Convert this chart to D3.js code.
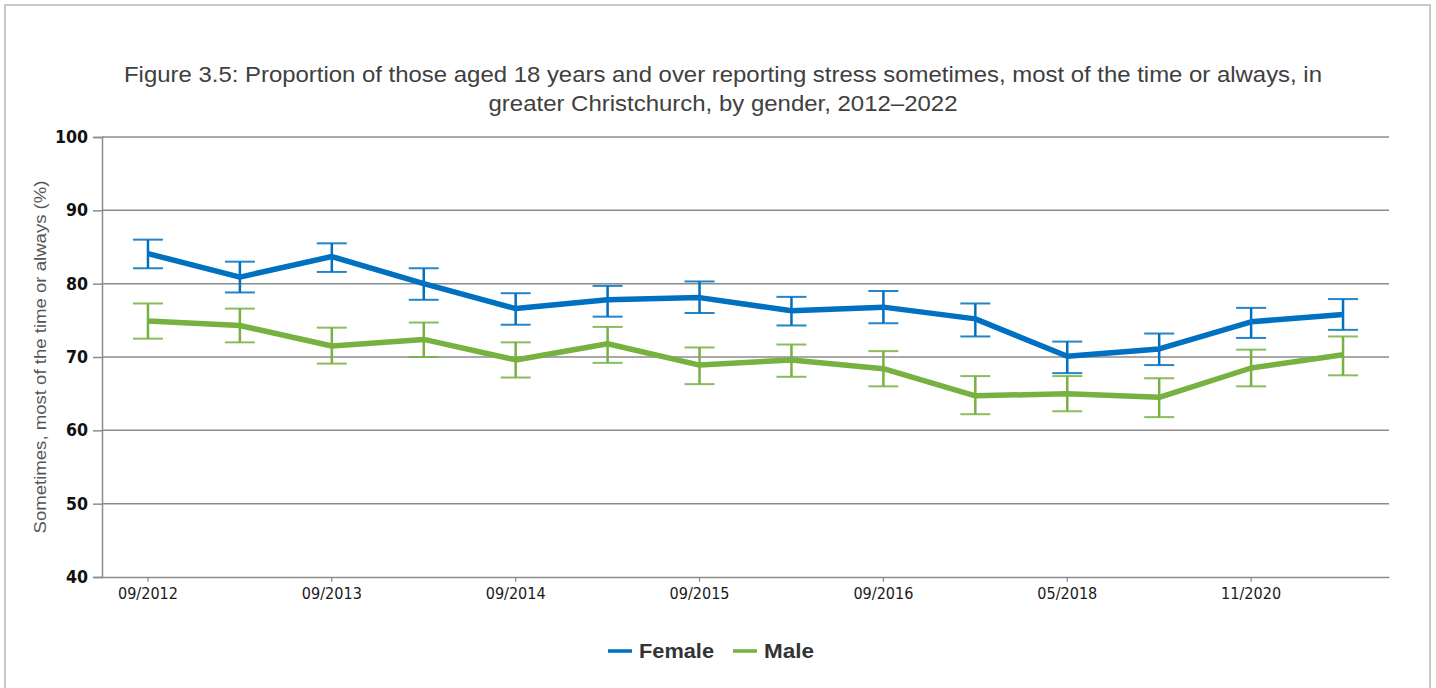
<!DOCTYPE html>
<html><head><meta charset="utf-8">
<script src="https://cdn.jsdelivr.net/npm/d3@7"></script>
<style>
body{margin:0;background:#fff;}
svg{display:block;}
</style></head>
<body><svg id="c" width="1436" height="688"></svg>
<script>
const categories = ["09/2012","04/2013","09/2013","04/2014","09/2014","04/2015","09/2015","04/2016","09/2016","05/2017","05/2018","05/2019","11/2020","11/2021"];
const tickLabels = ["09/2012","09/2013","09/2014","09/2015","09/2016","05/2018","11/2020"];
const yTicks = [40,50,60,70,80,90,100];
const femaleValues = [84.1,80.9,83.7,80.0,76.6,77.8,78.1,76.3,76.8,75.2,70.1,71.1,74.8,75.8];
const femaleLower  = [82.1,78.8,81.6,77.8,74.4,75.5,76.0,74.3,74.6,72.8,67.8,68.9,72.6,73.7];
const femaleUpper  = [86.0,83.0,85.5,82.1,78.7,79.7,80.3,78.2,79.0,77.3,72.1,73.2,76.7,77.9];
const maleValues = [74.9,74.3,71.5,72.4,69.6,71.8,68.9,69.6,68.4,64.7,65.0,64.5,68.5,70.3];
const maleLower  = [72.5,72.0,69.1,70.0,67.2,69.2,66.3,67.3,66.0,62.2,62.6,61.8,66.0,67.5];
const maleUpper  = [77.3,76.6,74.0,74.7,72.0,74.1,71.3,71.7,70.8,67.4,67.4,67.1,71.0,72.8];
const seriesNames = ["Female","Male"];
const seriesColors = ["#0070C0","#77B140"];

const svg = d3.select("#c");
svg.append("rect").attr("x",5).attr("y",5).attr("width",1425).attr("height",700)
  .attr("fill","none").attr("stroke","#c8c8c8").attr("stroke-width",2);

const title = ["Figure 3.5: Proportion of those aged 18 years and over reporting stress sometimes, most of the time or always, in",
               "greater Christchurch, by gender, 2012\u20132022"];
const titleW = [1198, 469];
svg.append("g").selectAll("text").data(title).join("text")
  .attr("x",723).attr("y",(d,i)=>82+i*29).attr("text-anchor","middle")
  .attr("font-family","'Liberation Sans', Arial, sans-serif").attr("font-size",21.5).attr("fill","#404040")
  .attr("textLength",(d,i)=>titleW[i]).attr("lengthAdjust","spacingAndGlyphs")
  .text(d=>d);

const pL=102, pR=1389, pT=137, pB=577;
const x = d3.scaleBand().domain(categories).range([pL,pR]);
const y = d3.scaleLinear().domain([40,100]).range([pB,pT]);
const cx = c => x(c)+x.bandwidth()/2;

svg.append("g").selectAll("line").data(yTicks.filter(t=>t>40)).join("line")
  .attr("x1",pL).attr("x2",pR).attr("y1",d=>y(d)).attr("y2",d=>y(d))
  .attr("stroke","#8c8c8c").attr("stroke-width",1.5);

const yAxis = svg.append("g").attr("transform",`translate(${pL},0)`)
  .call(d3.axisLeft(y).tickValues(yTicks).tickSize(9).tickPadding(5));
yAxis.select(".domain").attr("stroke","#8c8c8c").attr("stroke-width",1.5);
yAxis.selectAll(".tick line").attr("stroke","#8c8c8c").attr("stroke-width",1.5);
yAxis.selectAll("text").attr("font-family","'DejaVu Sans Condensed','Liberation Sans Narrow',sans-serif")
  .attr("font-size",17.5).attr("fill","#111").attr("font-weight","bold").attr("font-stretch","condensed")
  .attr("textLength",d=>d>=100?33:22).attr("lengthAdjust","spacingAndGlyphs");

const xAxis = svg.append("g").attr("transform",`translate(0,${pB})`)
  .call(d3.axisBottom(x).tickValues(tickLabels).tickSize(5).tickPadding(6).tickSizeOuter(0));
xAxis.select(".domain").attr("stroke","#8c8c8c").attr("stroke-width",1.5);
xAxis.selectAll(".tick line").attr("stroke","#8c8c8c").attr("stroke-width",1.2);
xAxis.selectAll("text").attr("font-family","'DejaVu Sans Condensed','Liberation Sans Narrow',sans-serif")
  .attr("font-size",16).attr("fill","#1a1a1a").attr("font-stretch","condensed")
  .attr("textLength",60).attr("lengthAdjust","spacingAndGlyphs");

svg.append("text").attr("transform",`translate(46,${(pT+pB)/2}) rotate(-90)`)
  .attr("text-anchor","middle").attr("font-family","'Liberation Sans', Arial, sans-serif")
  .attr("font-size",17).attr("fill","#555")
  .attr("textLength",353).attr("lengthAdjust","spacingAndGlyphs")
  .text("Sometimes, most of the time or always (%)");

const series = [
  {name:seriesNames[0], color:seriesColors[0], v:femaleValues, lo:femaleLower, hi:femaleUpper},
  {name:seriesNames[1], color:seriesColors[1], v:maleValues, lo:maleLower, hi:maleUpper}
];
const line = d3.line().x((d,i)=>cx(categories[i])).y(d=>y(d));
series.forEach(s=>{
  const g = svg.append("g");
  g.append("path").datum(s.v).attr("d",line).attr("fill","none")
    .attr("stroke",s.color).attr("stroke-width",5.5).attr("stroke-linejoin","round");
  const eb = g.append("g").selectAll("g").data(categories).join("g");
  eb.append("line").attr("x1",c=>cx(c)).attr("x2",c=>cx(c))
    .attr("y1",(c,i)=>y(s.lo[i])).attr("y2",(c,i)=>y(s.hi[i]))
    .attr("stroke",s.color).attr("stroke-width",2.5);
  [s.lo,s.hi].forEach(arr=>{
    eb.append("line").attr("x1",c=>cx(c)-15).attr("x2",c=>cx(c)+15)
      .attr("y1",(c,i)=>y(arr[i])).attr("y2",(c,i)=>y(arr[i]))
      .attr("stroke",s.color).attr("stroke-width",2).attr("stroke-opacity",0.85);
  });
});

const lg = svg.append("g").attr("transform","translate(608,651)");
const items = [{n:seriesNames[0],c:seriesColors[0],x:0,w:75},{n:seriesNames[1],c:seriesColors[1],x:125,w:50}];
items.forEach(it=>{
  lg.append("line").attr("x1",it.x).attr("x2",it.x+24).attr("y1",0).attr("y2",0)
    .attr("stroke",it.c).attr("stroke-width",3.5);
  lg.append("text").attr("x",it.x+31).attr("y",7).attr("font-family","'Liberation Sans', Arial, sans-serif")
    .attr("font-size",19.5).attr("font-weight","bold").attr("fill","#333")
    .attr("textLength",it.w).attr("lengthAdjust","spacingAndGlyphs").text(it.n);
});
</script></body></html>
